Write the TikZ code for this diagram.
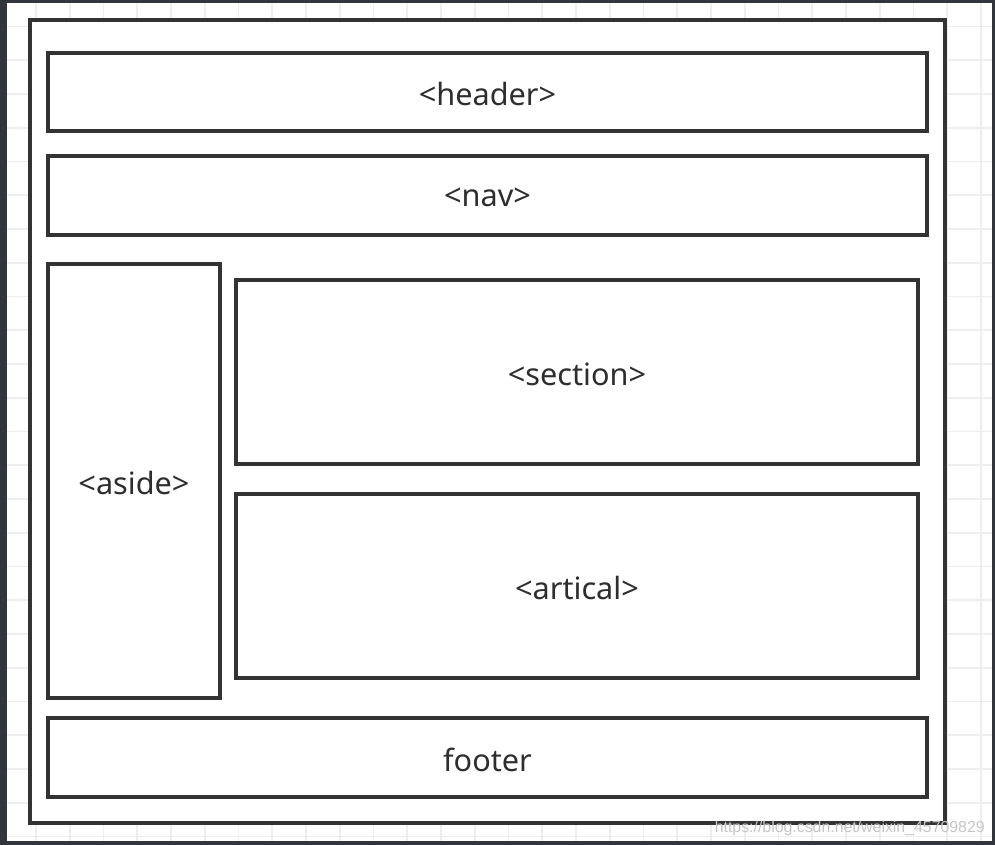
\documentclass[tikz,border=0pt]{standalone}
\usepackage{fontspec}
\setmainfont{Noto Sans}
\newfontfamily\wmfont{Liberation Sans}
\usetikzlibrary{fit}
\definecolor{frame}{HTML}{30363B}
\definecolor{boxline}{HTML}{333333}
\definecolor{gridc}{HTML}{EEEEEE}
\tikzset{
  box/.style={draw=boxline, line width=2.3pt, inner sep=0pt},
  lbl/.style={font=\fontsize{23}{27}\selectfont, text=black!82, inner sep=0pt, yshift=-1.5pt},
}
\begin{document}
\begin{tikzpicture}[x=0.75pt,y=-0.75pt]
\useasboundingbox (0,0) rectangle (995,845);
\fill[white] (0,0) rectangle (995,845);
% grid
\foreach \i in {0,...,29} {
  \draw[gridc, line width=1.2pt] ({2.25+33.75*\i},0) -- ({2.25+33.75*\i},845);
}
\foreach \j in {0,...,25} {
  \draw[gridc, line width=1.2pt] (0,{26.5+33.75*\j}) -- (995,{26.5+33.75*\j});
}
% dark window frame
\fill[frame] (0,0) rectangle (7,845);
\fill[frame] (0,0) rectangle (995,3);
\fill[frame] (992,0) rectangle (995,845);
\fill[frame] (0,841) rectangle (995,845);
% outer box
\node[box, line width=2.6pt, fill=white, fit={(30,20) (945,823)}] (outer) {};
\node[box, fit={(48,53) (927,131)}, label={[lbl]center:<header>}] (header) {};
\node[box, fit={(48,156) (927,235)}, label={[lbl]center:<nav>}] (nav) {};
\node[box, fit={(48,264) (220,698)}, label={[lbl]center:<aside>}] (aside) {};
\node[box, fit={(236,280) (918,464)}, label={[lbl]center:<section>}] (section) {};
\node[box, fit={(236,494) (918,678)}, label={[lbl]center:<artical>}] (artical) {};
\node[box, fit={(48,718) (927,797)}, label={[lbl]center:footer}] (footer) {};
% watermark
\node[font=\wmfont\fontsize{11.9}{14}\selectfont, text=gray!45, anchor=east, inner sep=0pt] (wm) at (985,828) {https://blog.csdn.net/weixin\_45709829};
\end{tikzpicture}
\end{document}
